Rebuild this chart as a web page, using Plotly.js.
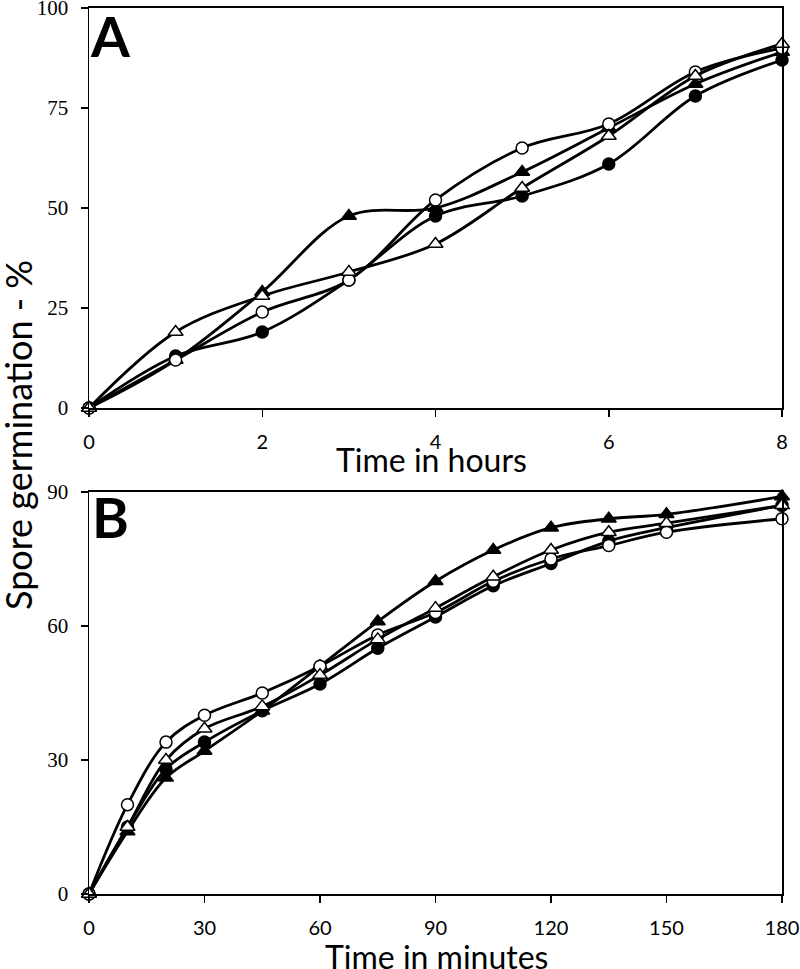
<!DOCTYPE html>
<html>
<head>
<meta charset="utf-8">
<script src="https://cdn.plot.ly/plotly-3.0.1.min.js"></script>
<style>html,body{margin:0;padding:0;background:#fff;}#chart{width:800px;height:969px;}</style>
</head>
<body>
<div id="chart"></div>
<script>
// Panel A: time in hours
const hours = [0, 1, 2, 3, 4, 5, 6, 7, 8];
const A_filledCircle = [0, 13, 19, 32, 48, 53, 61, 78, 87];
const A_openCircle   = [0, 12, 24, 32, 52, 65, 71, 84, 90];
const A_filledTri    = [0, 12, 29, 48, 50, 59, 70, 81, 89];
const A_openTri      = [0, 19, 28, 34, 41, 55, 68, 83, 91];
const A_yTicks = [0, 25, 50, 75, 100];
const A_xTicks = [0, 2, 4, 6, 8];

// Panel B: time in minutes
const minutes = [0, 10, 20, 30, 45, 60, 75, 90, 105, 120, 135, 150, 180];
const B_filledCircle = [0, 15, 28, 34, 41, 47, 55, 62, 69, 74, 79, 82, 87];
const B_openCircle   = [0, 20, 34, 40, 45, 51, 58, 63, 70, 75, 78, 81, 84];
const B_filledTri    = [0, 14, 26, 32, 41, 51, 61, 70, 77, 82, 84, 85, 89];
const B_openTri      = [0, 15, 30, 37, 42, 49, 57, 64, 71, 77, 81, 83, 87];
const B_yTicks = [0, 30, 60, 90];
const B_xTicks = [0, 30, 60, 90, 120, 150, 180];

const styles = [
  {symbol: 'circle', fill: '#000'},
  {symbol: 'circle', fill: '#fff'},
  {symbol: 'triangle-up', fill: '#000'},
  {symbol: 'triangle-up', fill: '#fff'}
];

function mk(x, y, st, xa, ya) {
  return {
    x: x, y: y, xaxis: xa, yaxis: ya, type: 'scatter', mode: 'lines+markers',
    line: {color: '#000', width: 2.8, shape: 'spline', smoothing: 1},
    marker: {symbol: st.symbol, size: st.symbol === 'circle' ? 12 : 13, color: st.fill, line: {color: '#000', width: 1.5}},
    cliponaxis: false, showlegend: false, hoverinfo: 'skip'
  };
}

const data = [
  mk(hours, A_filledCircle, styles[0], 'x', 'y'),
  mk(hours, A_filledTri, styles[2], 'x', 'y'),
  mk(hours, A_openCircle, styles[1], 'x', 'y'),
  mk(hours, A_openTri, styles[3], 'x', 'y'),
  mk(minutes, B_filledCircle, styles[0], 'x2', 'y2'),
  mk(minutes, B_filledTri, styles[2], 'x2', 'y2'),
  mk(minutes, B_openCircle, styles[1], 'x2', 'y2'),
  mk(minutes, B_openTri, styles[3], 'x2', 'y2')
];

const xTickFont = {family: 'Lato, "Open Sans", sans-serif', size: 20, color: '#000'};
const yTickFont = {family: '"Liberation Serif", "Times New Roman", serif', size: 21, color: '#000'};

function xax(range, ticks, anchor) {
  return {
    range: range, domain: [0, 1], anchor: anchor, tickmode: 'array', tickvals: ticks,
    ticks: 'outside', ticklen: 7, tickwidth: 1.5, tickcolor: '#000', ticklabelstandoff: 8,
    ticklabeloverflow: 'allow',
    showline: true, linecolor: '#000', linewidth: 1.5, mirror: true,
    showgrid: false, zeroline: false, tickfont: xTickFont, fixedrange: true
  };
}
function yax(range, ticks, domain, anchor) {
  return {
    range: range, domain: domain, anchor: anchor, tickmode: 'array', tickvals: ticks,
    ticks: 'outside', ticklen: 7, tickwidth: 1.5, tickcolor: '#000', ticklabelstandoff: 8,
    ticklabeloverflow: 'allow',
    showline: true, linecolor: '#000', linewidth: 1.5, mirror: true,
    showgrid: false, zeroline: false, tickfont: yTickFont, fixedrange: true
  };
}

const titleFont = {family: 'Lato, "Open Sans", sans-serif', size: 32, color: '#000'};
const yTitleFont = {family: 'Lato, "Open Sans", sans-serif', size: 36, color: '#000'};
const letterFont = {family: 'Lato, "Liberation Sans", sans-serif', size: 56, color: '#000', weight: 900};

const layout = {
  width: 800, height: 969,
  margin: {l: 89, r: 18, t: 0, b: 75},
  paper_bgcolor: '#fff', plot_bgcolor: '#fff',
  xaxis: xax([0, 8], A_xTicks, 'y'),
  yaxis: yax([0, 100], A_yTicks, [0.5436, 0.9911], 'x'),
  xaxis2: xax([0, 180], B_xTicks, 'y2'),
  yaxis2: yax([0, 90], B_yTicks, [0, 0.4497], 'x2'),
  annotations: [
    {text: 'Time in hours', xref: 'paper', yref: 'paper', x: 0.494, y: 0.4865, xanchor: 'center', yanchor: 'middle', showarrow: false, font: titleFont},
    {text: 'Time in minutes', xref: 'paper', yref: 'paper', x: 0.501, y: -0.0694, xanchor: 'center', yanchor: 'middle', showarrow: false, font: titleFont},
    {text: 'Spore germination - %', xref: 'paper', yref: 'paper', x: -0.1025, y: 0.5134, xanchor: 'center', yanchor: 'middle', textangle: -90, showarrow: false, font: yTitleFont},
    {text: '<b>A</b>', xref: 'paper', yref: 'paper', x: -0.002, y: 1.0, xanchor: 'left', yanchor: 'top', showarrow: false, font: letterFont},
    {text: '<b>B</b>', xref: 'paper', yref: 'paper', x: 0.002, y: 0.4620, xanchor: 'left', yanchor: 'top', showarrow: false, font: letterFont}
  ]
};

Plotly.newPlot('chart', data, layout, {staticPlot: true, displayModeBar: false});
</script>
</body>
</html>
